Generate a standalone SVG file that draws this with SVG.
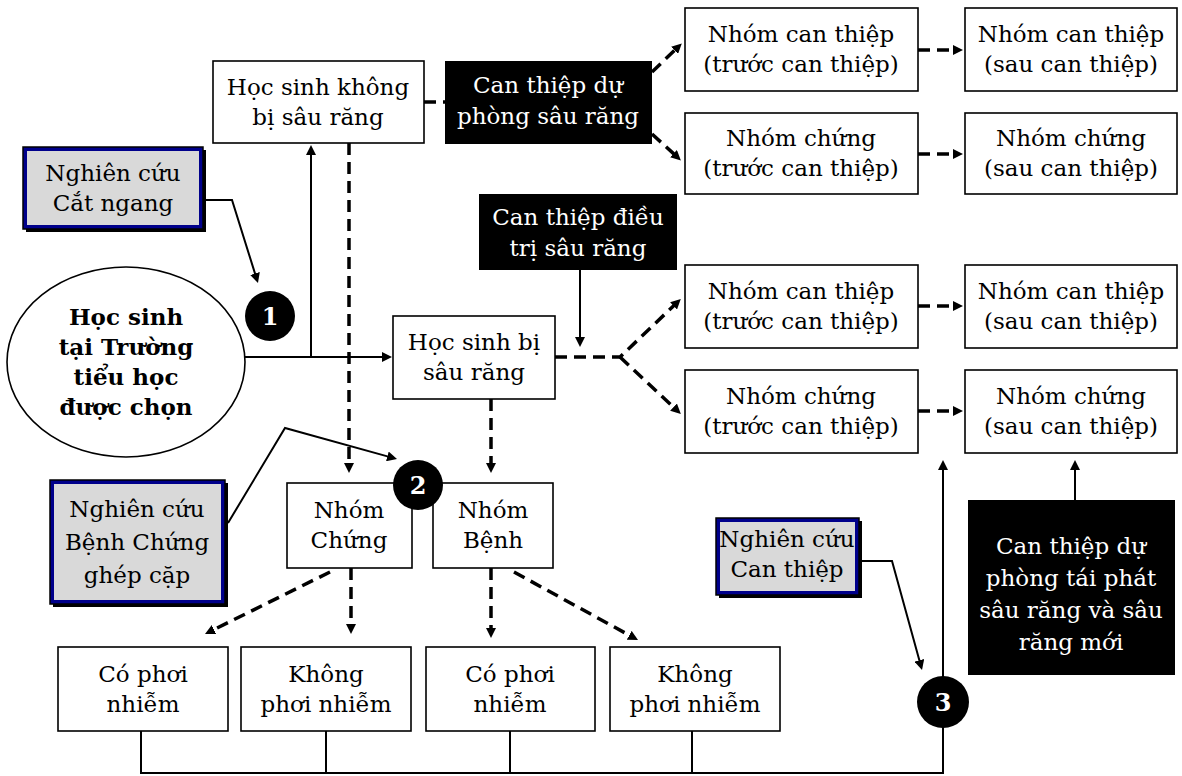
<svg xmlns="http://www.w3.org/2000/svg" width="1182" height="776" viewBox="0 0 1182 776">
  <style>
    text { font-family: "DejaVu Serif", "Liberation Serif", serif; font-size: 23px; text-anchor: middle; fill: #000; }
    .box { fill: #fff; stroke: #000; stroke-width: 1.6; }
    .dark { fill: #000; stroke: none; }
    .dark-t { fill: #fff; }
    .study { fill: #d9d9d9; stroke: #00008b; stroke-width: 4; }
    .study-edge { fill: none; stroke: #000; stroke-width: 1.5; }
    .shadow { fill: #000; }
    .bold { font-weight: bold; }
    .num { font-weight: bold; fill: #fff; font-size: 24px; }
    .solid { fill: none; stroke: #000; stroke-width: 2; }
    .dash { fill: none; stroke: #000; stroke-width: 3.5; stroke-dasharray: 12 7; }
  </style>
  <defs>
    <marker id="arrow" viewBox="0 0 10 10" refX="2" refY="5" markerWidth="10" markerHeight="10" markerUnits="userSpaceOnUse" orient="auto">
      <path d="M0,0 L10,5 L0,10 z" fill="#000"/>
    </marker>
  </defs>
  <rect width="1182" height="776" fill="#fff"/>

  <!-- connectors -->
  <g id="connectors">
    <path class="solid" d="M245,357 H384" marker-end="url(#arrow)"/>
    <path class="solid" d="M311,357 V153" marker-end="url(#arrow)"/>
    <path class="dash" d="M349,143 V465" marker-end="url(#arrow)"/>
    <path class="dash" d="M424,102 H446"/>
    <path class="dash" d="M652,72 L676,49" marker-end="url(#arrow)"/>
    <path class="dash" d="M652,134 L675,155" marker-end="url(#arrow)"/>
    <path class="dash" d="M918,50 H955" marker-end="url(#arrow)"/>
    <path class="dash" d="M918,154 H955" marker-end="url(#arrow)"/>
    <path class="dash" d="M918,306 H955" marker-end="url(#arrow)"/>
    <path class="dash" d="M918,411 H955" marker-end="url(#arrow)"/>
    <path class="solid" d="M580,270 V339" marker-end="url(#arrow)"/>
    <path class="dash" d="M555,357 H620 L675,304.5" marker-end="url(#arrow)"/>
    <path class="dash" d="M620,357 L675,408.5" marker-end="url(#arrow)"/>
    <path class="dash" d="M491,399 V465" marker-end="url(#arrow)"/>
    <path class="solid" d="M203,200 H232 L255.6,275.4" marker-end="url(#arrow)"/>
    <path class="solid" d="M228,523 L285,428 L389.3,456.9" marker-end="url(#arrow)"/>
    <path class="dash" d="M351,568 V626" marker-end="url(#arrow)"/>
    <path class="dash" d="M330,572 L212.2,630.4" marker-end="url(#arrow)"/>
    <path class="dash" d="M491,568 V630" marker-end="url(#arrow)"/>
    <path class="dash" d="M514,572 L631,636.2" marker-end="url(#arrow)"/>
    <path class="solid" d="M141,731 V773 H943 V468" marker-end="url(#arrow)"/>
    <path class="solid" d="M326,731 V773"/>
    <path class="solid" d="M510,731 V773"/>
    <path class="solid" d="M692,731 V773"/>
    <path class="solid" d="M858,561 H892 L919.9,662.3" marker-end="url(#arrow)"/>
    <path class="solid" d="M1075,500 V468" marker-end="url(#arrow)"/>
  </g>

  <!-- population -->
  <g id="population">
    <ellipse cx="126" cy="362" rx="119" ry="95" fill="#fff" stroke="#000" stroke-width="1.6"/>
    <text class="bold" x="126" y="325">Học sinh</text>
    <text class="bold" x="126" y="355">tại Trường</text>
    <text class="bold" x="126" y="385">tiểu học</text>
    <text class="bold" x="126" y="415">được chọn</text>
  </g>

  <!-- study designs -->
  <g id="study-cross">
    <rect class="shadow" x="26" y="150" width="180" height="82"/>
    <rect class="study" x="25" y="149" width="176" height="78"/>
    <rect class="study-edge" x="23" y="147" width="180" height="82"/>
    <text x="113" y="181">Nghiên cứu</text>
    <text x="113" y="211">Cắt ngang</text>
  </g>
  <g id="study-case-control">
    <rect class="shadow" x="53" y="483" width="175" height="124"/>
    <rect class="study" x="52" y="482" width="171" height="120"/>
    <rect class="study-edge" x="50" y="480" width="175" height="124"/>
    <text x="137" y="517">Nghiên cứu</text>
    <text x="137" y="550">Bệnh Chứng</text>
    <text x="137" y="583">ghép cặp</text>
  </g>
  <g id="study-intervention">
    <rect class="shadow" x="719" y="521" width="143" height="77"/>
    <rect class="study" x="718" y="520" width="139" height="73"/>
    <rect class="study-edge" x="716" y="518" width="143" height="77"/>
    <text x="787" y="547">Nghiên cứu</text>
    <text x="787" y="577">Can thiệp</text>
  </g>

  <!-- first branch: healthy pupils -->
  <g id="no-caries">
    <rect class="box" x="213" y="61" width="211" height="82"/>
    <text x="318" y="95">Học sinh không</text>
    <text x="318" y="125">bị sâu răng</text>
  </g>
  <g id="prevention">
    <rect class="dark" x="445" y="61" width="207" height="83"/>
    <text class="dark-t" x="548" y="93">Can thiệp dự</text>
    <text class="dark-t" x="548" y="124">phòng sâu răng</text>
  </g>
  <g id="int-pre-1">
    <rect class="box" x="685" y="8" width="233" height="83"/>
    <text x="801" y="42">Nhóm can thiệp</text>
    <text x="801" y="72">(trước can thiệp)</text>
  </g>
  <g id="int-post-1">
    <rect class="box" x="965" y="8" width="212" height="83"/>
    <text x="1071" y="42">Nhóm can thiệp</text>
    <text x="1071" y="72">(sau can thiệp)</text>
  </g>
  <g id="ctl-pre-1">
    <rect class="box" x="685" y="113" width="233" height="81"/>
    <text x="801" y="146">Nhóm chứng</text>
    <text x="801" y="176">(trước can thiệp)</text>
  </g>
  <g id="ctl-post-1">
    <rect class="box" x="965" y="113" width="212" height="81"/>
    <text x="1071" y="146">Nhóm chứng</text>
    <text x="1071" y="176">(sau can thiệp)</text>
  </g>

  <!-- second branch: pupils with caries -->
  <g id="treatment">
    <rect class="dark" x="479" y="194" width="198" height="76"/>
    <text class="dark-t" x="578" y="225">Can thiệp điều</text>
    <text class="dark-t" x="578" y="256">trị sâu răng</text>
  </g>
  <g id="caries">
    <rect class="box" x="393" y="316" width="162" height="83"/>
    <text x="474" y="350">Học sinh bị</text>
    <text x="474" y="380">sâu răng</text>
  </g>
  <g id="int-pre-2">
    <rect class="box" x="685" y="265" width="233" height="83"/>
    <text x="801" y="299">Nhóm can thiệp</text>
    <text x="801" y="329">(trước can thiệp)</text>
  </g>
  <g id="int-post-2">
    <rect class="box" x="965" y="265" width="212" height="83"/>
    <text x="1071" y="299">Nhóm can thiệp</text>
    <text x="1071" y="329">(sau can thiệp)</text>
  </g>
  <g id="ctl-pre-2">
    <rect class="box" x="685" y="370" width="233" height="83"/>
    <text x="801" y="404">Nhóm chứng</text>
    <text x="801" y="434">(trước can thiệp)</text>
  </g>
  <g id="ctl-post-2">
    <rect class="box" x="965" y="370" width="212" height="83"/>
    <text x="1071" y="404">Nhóm chứng</text>
    <text x="1071" y="434">(sau can thiệp)</text>
  </g>
  <g id="relapse-prevention">
    <rect class="dark" x="968" y="500" width="207" height="175"/>
    <text class="dark-t" x="1071" y="554">Can thiệp dự</text>
    <text class="dark-t" x="1071" y="586">phòng tái phát</text>
    <text class="dark-t" x="1071" y="618">sâu răng và sâu</text>
    <text class="dark-t" x="1071" y="650">răng mới</text>
  </g>

  <!-- case-control groups -->
  <g id="controls">
    <rect class="box" x="287" y="483" width="125" height="85"/>
    <text x="349" y="518">Nhóm</text>
    <text x="349" y="548">Chứng</text>
  </g>
  <g id="cases">
    <rect class="box" x="433" y="483" width="120" height="85"/>
    <text x="493" y="518">Nhóm</text>
    <text x="493" y="548">Bệnh</text>
  </g>
  <g id="exposed-1">
    <rect class="box" x="58" y="647" width="170" height="84"/>
    <text x="143" y="682">Có phơi</text>
    <text x="143" y="712">nhiễm</text>
  </g>
  <g id="unexposed-1">
    <rect class="box" x="241" y="647" width="170" height="84"/>
    <text x="326" y="682">Không</text>
    <text x="326" y="712">phơi nhiễm</text>
  </g>
  <g id="exposed-2">
    <rect class="box" x="426" y="647" width="169" height="84"/>
    <text x="510" y="682">Có phơi</text>
    <text x="510" y="712">nhiễm</text>
  </g>
  <g id="unexposed-2">
    <rect class="box" x="610" y="647" width="170" height="84"/>
    <text x="695" y="682">Không</text>
    <text x="695" y="712">phơi nhiễm</text>
  </g>

  <!-- study markers -->
  <g id="marker-1">
    <circle cx="270" cy="316" r="25" fill="#000"/>
    <text class="num" x="270" y="325">1</text>
  </g>
  <g id="marker-2">
    <circle cx="418" cy="485" r="25" fill="#000"/>
    <text class="num" x="418" y="494">2</text>
  </g>
  <g id="marker-3">
    <circle cx="943" cy="702" r="26" fill="#000"/>
    <text class="num" x="943" y="711">3</text>
  </g>
</svg>
